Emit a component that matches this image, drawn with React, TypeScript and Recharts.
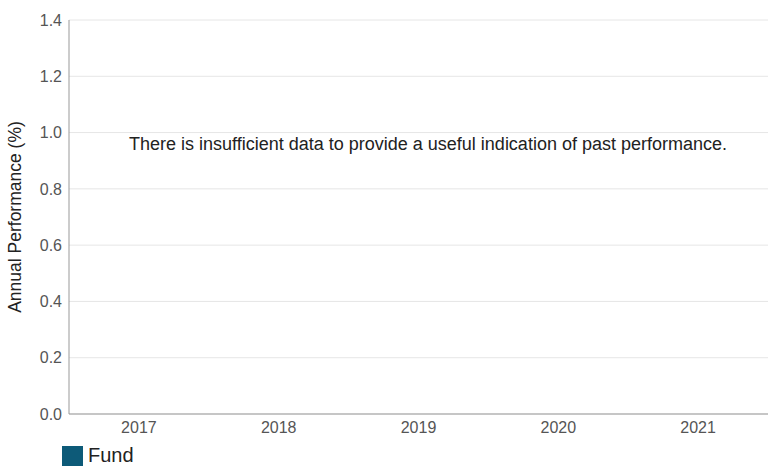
import React from 'react';
import { BarChart, Bar, XAxis, YAxis, CartesianGrid, Legend, Label } from 'recharts';

const years = ['2017', '2018', '2019', '2020', '2021'];
const fundValues: (number | null)[] = [null, null, null, null, null];
const yTicks = [0, 0.2, 0.4, 0.6, 0.8, 1.0, 1.2, 1.4];
const message = 'There is insufficient data to provide a useful indication of past performance.';

const data = years.map((year, i) => ({ year, fund: fundValues[i] }));

const FUND_COLOR = '#0d5a78';
const FONT = '"Liberation Sans", Arial, sans-serif';

const renderLegend = () => (
  <div style={{ display: 'flex', alignItems: 'center', fontFamily: FONT, fontSize: 20, color: '#222' }}>
    <span style={{ display: 'inline-block', width: 21, height: 20, background: FUND_COLOR, marginRight: 5 }} />
    Fund
  </div>
);

const App: React.FC = () => {
  return (
    <div style={{ position: 'absolute', left: 0, top: 0, width: 769, height: 468, background: '#fff' }}>
      <BarChart width={769} height={468} data={data} margin={{ top: 20, right: 1, left: 0, bottom: 0 }}>
        <CartesianGrid vertical={false} stroke="#e6e6e6" />
        <XAxis
          dataKey="year"
          tickLine={false}
          axisLine={{ stroke: '#999' }}
          tick={{ fill: '#555', fontSize: 16, fontFamily: FONT }}
          height={30}
        />
        <YAxis
          type="number"
          width={69}
          domain={[0, 1.4]}
          allowDataOverflow
          ticks={yTicks}
          tickFormatter={(v: number) => v.toFixed(1)}
          tickLine={false}
          axisLine={{ stroke: '#999' }}
          tick={{ fill: '#555', fontSize: 16, fontFamily: FONT }}
          tickMargin={1}
        >
          <Label
            value="Annual Performance (%)"
            angle={-90}
            position="insideLeft"
            offset={0}
            dx={15}
            style={{ textAnchor: 'middle', fill: '#222', fontSize: 17.5, fontFamily: FONT }}
          />
        </YAxis>
        <Legend
          verticalAlign="bottom"
          align="left"
          content={renderLegend}
          wrapperStyle={{ left: 62, bottom: 0, height: 24 }}
        />
        <Bar dataKey="fund" name="Fund" fill={FUND_COLOR} isAnimationActive={false} />
      </BarChart>
      <div
        style={{
          position: 'absolute',
          left: 0,
          width: 856,
          top: 134,
          textAlign: 'center',
          fontFamily: FONT,
          fontSize: 18,
          color: '#222',
          whiteSpace: 'nowrap',
        }}
      >
        {message}
      </div>
    </div>
  );
};

export default App;
